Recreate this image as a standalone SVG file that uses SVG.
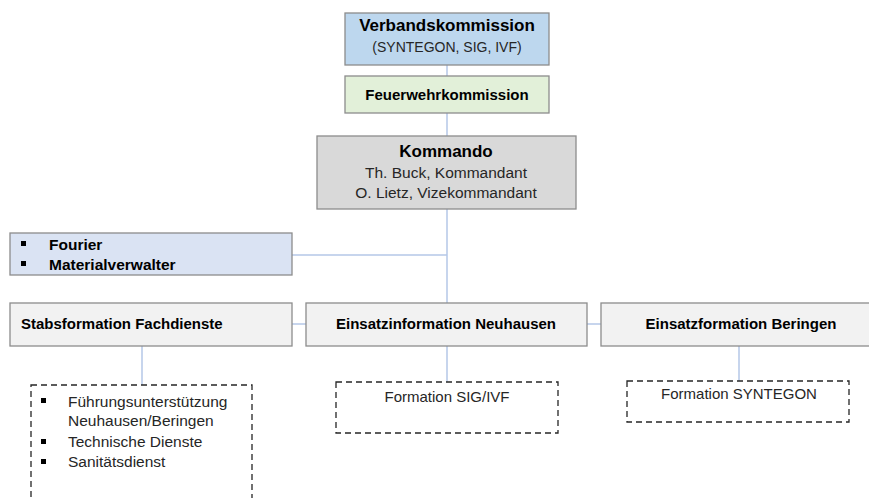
<svg xmlns="http://www.w3.org/2000/svg" width="869" height="498" viewBox="0 0 869 498">
<style>
.box{stroke:#8c8c8c;stroke-width:1.3}
.dash{fill:none;stroke:#262626;stroke-width:1.3;stroke-dasharray:6 4}
.conn{stroke:#b4c7e7;stroke-width:1.5;fill:none}
text{font-family:"Liberation Sans",Arial,sans-serif;fill:#000}
.b{font-weight:bold}
.c{text-anchor:middle}
.g{fill:#262626}
.bul{fill:#000}
</style>
<rect width="869" height="498" fill="#fff"/>
<g id="connectors">
<line class="conn" x1="447" y1="65" x2="447" y2="76"/>
<line class="conn" x1="447" y1="113" x2="447" y2="136"/>
<line class="conn" x1="447" y1="209" x2="447" y2="303"/>
<line class="conn" x1="292" y1="255" x2="447" y2="255"/>
<line class="conn" x1="292" y1="324" x2="306" y2="324"/>
<line class="conn" x1="587" y1="324" x2="601" y2="324"/>
<line class="conn" x1="142" y1="346" x2="142" y2="385"/>
<line class="conn" x1="447" y1="346" x2="447" y2="382"/>
<line class="conn" x1="739" y1="346" x2="739" y2="381"/>
</g>
<g id="verbandskommission">
<rect class="box" x="345" y="13" width="204" height="52" fill="#bdd7ee"/>
<text class="b c" x="447" y="31" font-size="17">Verbandskommission</text>
<text class="c g" x="447" y="52" font-size="14">(SYNTEGON, SIG, IVF)</text>
</g>
<g id="feuerwehrkommission">
<rect class="box" x="345" y="76" width="204" height="37" fill="#e2f0d9"/>
<text class="b c" x="447" y="100" font-size="15">Feuerwehrkommission</text>
</g>
<g id="kommando">
<rect class="box" x="317" y="136" width="259" height="73" fill="#d9d9d9"/>
<text class="b c" x="446" y="157" font-size="17">Kommando</text>
<text class="c g" x="446" y="178" font-size="15.5">Th. Buck, Kommandant</text>
<text class="c g" x="446" y="198" font-size="15.5">O. Lietz, Vizekommandant</text>
</g>
<g id="fourier">
<rect class="box" x="10" y="233" width="282" height="42" fill="#dae3f3"/>
<rect class="bul" x="21" y="241" width="5" height="5"/>
<rect class="bul" x="21" y="261" width="5" height="5"/>
<text class="b" x="49" y="250" font-size="15.5">Fourier</text>
<text class="b" x="49" y="270" font-size="15.5">Materialverwalter</text>
</g>
<g id="stabsformation">
<rect class="box" x="10" y="303" width="282" height="43" fill="#f2f2f2"/>
<text class="b" x="21" y="329" font-size="15">Stabsformation Fachdienste</text>
</g>
<g id="neuhausen">
<rect class="box" x="306" y="303" width="281" height="43" fill="#f2f2f2"/>
<text class="b c" x="446" y="329" font-size="15">Einsatzinformation Neuhausen</text>
</g>
<g id="beringen">
<rect class="box" x="601" y="303" width="275" height="43" fill="#f2f2f2"/>
<text class="b c" x="741" y="329" font-size="15">Einsatzformation Beringen</text>
</g>
<g id="fachdienste-list">
<rect class="dash" x="31" y="385" width="221" height="130"/>
<rect class="bul" x="41" y="398" width="5" height="5"/>
<rect class="bul" x="41" y="439" width="5" height="5"/>
<rect class="bul" x="41" y="459" width="5" height="5"/>
<text class="g" x="68" y="407" font-size="15.5">Führungsunterstützung</text>
<text class="g" x="68" y="426" font-size="15.5">Neuhausen/Beringen</text>
<text class="g" x="68" y="447" font-size="15.5">Technische Dienste</text>
<text class="g" x="68" y="467" font-size="15.5">Sanitätsdienst</text>
</g>
<g id="formation-sig-ivf">
<rect class="dash" x="336" y="382" width="222" height="51"/>
<text class="c g" x="447" y="402" font-size="15">Formation SIG/IVF</text>
</g>
<g id="formation-syntegon">
<rect class="dash" x="627" y="381" width="222" height="41"/>
<text class="c g" x="739" y="399" font-size="15">Formation SYNTEGON</text>
</g>
</svg>
